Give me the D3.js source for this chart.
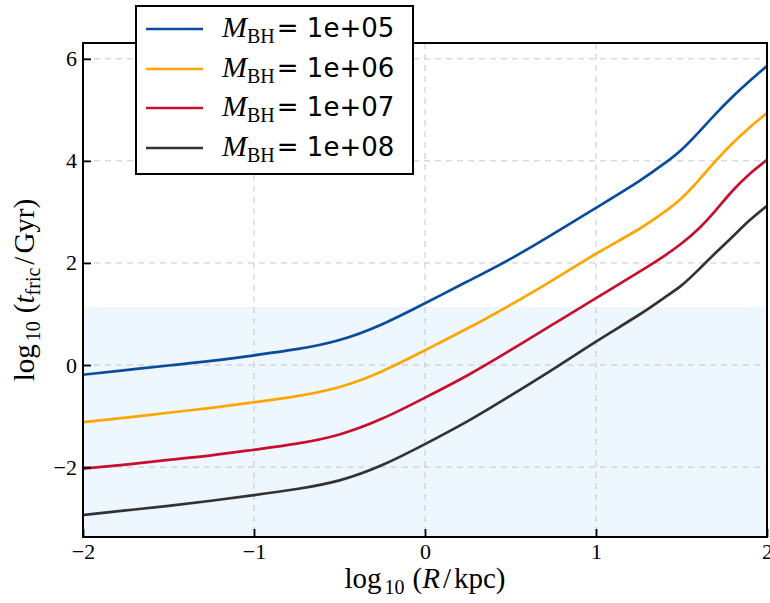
<!DOCTYPE html>
<html><head><meta charset="utf-8">
<script src="https://cdn.jsdelivr.net/npm/d3@7"></script>
<style>body{margin:0;background:#fff}svg{display:block}</style>
</head><body>
<svg id="c" width="770" height="603"></svg>
<script>
const logR = [-2, -1.75, -1.5, -1.25, -1, -0.75, -0.5, -0.25, 0, 0.25, 0.5, 0.75, 1, 1.25, 1.4, 1.5, 1.6, 1.7, 1.8, 1.9, 2];
const tBH5 = [-0.19, -0.10, -0.01, 0.08, 0.19, 0.31, 0.49, 0.80, 1.21, 1.64, 2.08, 2.57, 3.08, 3.6, 3.95, 4.22, 4.56, 4.92, 5.26, 5.57, 5.86];
const tBH6 = [-1.12, -1.03, -0.935, -0.84, -0.73, -0.61, -0.43, -0.12, 0.29, 0.72, 1.18, 1.67, 2.18, 2.66, 3.0, 3.27, 3.62, 4.0, 4.35, 4.66, 4.94];
const tBH7 = [-2.03, -1.95, -1.86, -1.77, -1.66, -1.54, -1.36, -1.05, -0.64, -0.2, 0.29, 0.8, 1.31, 1.82, 2.14, 2.38, 2.67, 3.03, 3.42, 3.75, 4.02];
const tBH8 = [-2.94, -2.85, -2.76, -2.66, -2.55, -2.43, -2.26, -1.96, -1.55, -1.1, -0.6, -0.08, 0.46, 0.98, 1.32, 1.56, 1.87, 2.2, 2.52, 2.84, 3.12];
const seriesLabels = ["1e+05", "1e+06", "1e+07", "1e+08"];
const seriesColors = ["#0a4c9c", "#ffa500", "#c8102e", "#333333"];
const xTicks = [-2, -1, 0, 1, 2];
const yTicks = [-2, 0, 2, 4, 6];
const hubbleLog = 1.14; // log10(13.8 Gyr)

const series = [tBH5, tBH6, tBH7, tBH8];
const svg = d3.select("#c");
const L = 83, R = 767, T = 43, B = 537;
const x = d3.scaleLinear().domain([-2, 2]).range([L, R]);
const y = d3.scaleLinear().domain([-3.37, 6.31]).range([B, T]);
const fmt = v => (v < 0 ? "\u2212" + Math.abs(v) : String(v));
const SERIF = "Liberation Serif, serif";

svg.append("defs").append("clipPath").attr("id", "pc")
  .append("rect").attr("x", L).attr("y", T).attr("width", R - L).attr("height", B - T);

// shaded region
svg.append("rect").attr("x", L).attr("width", R - L)
  .attr("y", y(hubbleLog)).attr("height", y(-3.37) - y(hubbleLog))
  .attr("fill", "#eef6fe");

// grid
const g = svg.append("g").attr("clip-path", "url(#pc)");
g.selectAll(".gx").data(xTicks).enter().append("line")
  .attr("x1", d => x(d)).attr("x2", d => x(d)).attr("y1", T).attr("y2", B)
  .attr("stroke", "#c8c8c8").attr("stroke-width", 1).attr("stroke-dasharray", "6,5");
g.selectAll(".gy").data(yTicks).enter().append("line")
  .attr("y1", d => y(d)).attr("y2", d => y(d)).attr("x1", L).attr("x2", R)
  .attr("stroke", "#c8c8c8").attr("stroke-width", 1).attr("stroke-dasharray", "6,5");

// lines
const line = d3.line().x(d => x(d[0])).y(d => y(d[1])).curve(d3.curveNatural);
series.forEach((s, i) => {
  g.append("path").datum(logR.map((r, j) => [r, s[j]]))
    .attr("d", line).attr("fill", "none")
    .attr("stroke", seriesColors[i]).attr("stroke-width", 2.7);
});

// axes with inward ticks
const xAxis = d3.axisBottom(x).tickValues(xTicks).tickSize(-8).tickPadding(6).tickFormat(fmt);
const yAxis = d3.axisLeft(y).tickValues(yTicks).tickSize(-8).tickPadding(6).tickFormat(fmt);
const ax = svg.append("g").attr("transform", `translate(0,${B})`).call(xAxis);
const ay = svg.append("g").attr("transform", `translate(${L},0)`).call(yAxis);
[ax, ay].forEach(a => {
  a.select(".domain").remove();
  a.selectAll(".tick line").attr("stroke", "#000").attr("stroke-width", 1.8);
  a.selectAll(".tick text").attr("font-family", SERIF).attr("font-size", 22).attr("fill", "#000");
});

// frame
svg.append("rect").attr("x", L).attr("y", T).attr("width", R - L).attr("height", B - T)
  .attr("fill", "none").attr("stroke", "#000").attr("stroke-width", 2);

// axis labels
const xl = svg.append("text").attr("x", 425).attr("y", 588).attr("text-anchor", "middle")
  .attr("font-family", SERIF).attr("font-size", 29).attr("fill", "#000");
xl.append("tspan").text("log");
xl.append("tspan").attr("font-size", 20).attr("dx", 3).attr("dy", 6).text("10");
xl.append("tspan").attr("dx", 8).attr("dy", -6).text("(");
xl.append("tspan").attr("font-style", "italic").text("R");
xl.append("tspan").attr("dx", 3).text("/");
xl.append("tspan").attr("dx", 3).text("kpc)");

const yl = svg.append("text").attr("transform", "translate(34,290) rotate(-90)").attr("text-anchor", "middle")
  .attr("font-family", SERIF).attr("font-size", 29).attr("fill", "#000");
yl.append("tspan").text("log");
yl.append("tspan").attr("font-size", 20).attr("dx", 3).attr("dy", 6).text("10");
yl.append("tspan").attr("dx", 8).attr("dy", -6).text("(");
yl.append("tspan").attr("font-style", "italic").text("t");
yl.append("tspan").attr("font-size", 20).attr("dy", 6).text("fric");
yl.append("tspan").attr("dx", 3).attr("dy", -6).text("/");
yl.append("tspan").attr("dx", 3).text("Gyr)");

// legend
const lg = svg.append("g");
lg.append("rect").attr("x", 136).attr("y", 6).attr("width", 277).attr("height", 168)
  .attr("fill", "#fff").attr("stroke", "#000").attr("stroke-width", 2);
const ly = [29, 69, 108, 148];
seriesLabels.forEach((lab, i) => {
  lg.append("line").attr("x1", 146).attr("x2", 203).attr("y1", ly[i]).attr("y2", ly[i])
    .attr("stroke", seriesColors[i]).attr("stroke-width", 2.7);
  const t = lg.append("text").attr("x", 222).attr("y", ly[i] + 8).attr("fill", "#000").attr("font-size", 26);
  t.append("tspan").attr("font-family", SERIF).attr("font-style", "italic").attr("font-size", 30).text("M");
  t.append("tspan").attr("font-family", SERIF).attr("font-size", 20).attr("dy", 6).text("BH");
  t.append("tspan").attr("font-family", "DejaVu Sans, sans-serif").attr("dx", 2).attr("dy", -6).text("= " + lab);
});
</script>
</body></html>
